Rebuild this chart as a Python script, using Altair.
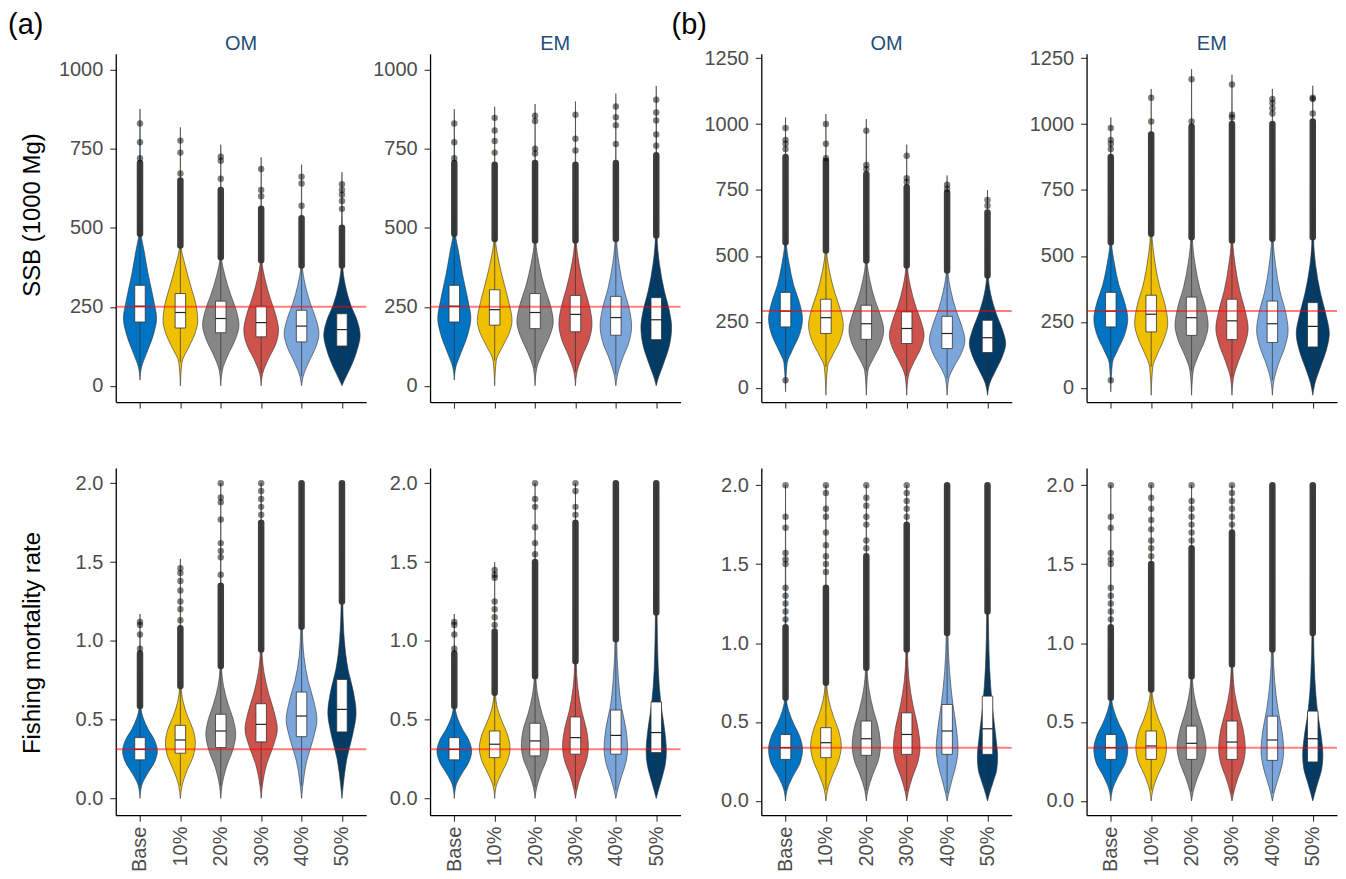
import altair as alt
import pandas as pd

CATS = ["Base", "10%", "20%", "30%", "40%", "50%"]
COLORS = ["#0073C2", "#EFC000", "#868686", "#CD534C", "#7AA6DC", "#003C67"]
XDOM = [-0.6, 5.6]

# ---------------- (a) OM  SSB ----------------
A_OM_SSB_Q1 = [202, 183, 168, 155, 139, 126]
A_OM_SSB_MED = [252, 232, 213, 200, 189, 178]
A_OM_SSB_Q3 = [318, 292, 268, 252, 239, 228]
A_OM_SSB_DENSE = [705, 650, 620, 560, 530, 500]
A_OM_SSB_SPARSE = [[720, 771, 830], [672, 738, 776], [655, 712, 725],
                   [600, 620, 686], [570, 640, 662], [560, 585, 605, 620, 638]]
A_OM_SSB_LOW = [[], [], [], [], [], []]
A_OM_SSB_VY = [[18, 60, 102, 165, 213, 270, 355, 428, 481, 876],
               [0, 75, 120, 165, 205, 260, 310, 380, 444, 818],
               [0, 50, 95, 150, 192, 240, 290, 350, 407, 763],
               [0, 40, 85, 135, 176, 225, 275, 335, 397, 723],
               [0, 30, 75, 125, 165, 210, 260, 320, 381, 700],
               [0, 15, 60, 115, 160, 205, 255, 320, 381, 676]]
A_OM_SSB_VW = [[0, .04, .16, .34, .41, .34, .20, .10, .03, 0],
               [0, .04, .20, .36, .43, .38, .27, .12, .02, 0],
               [0, .04, .17, .37, .45, .38, .24, .10, .02, 0],
               [0, .04, .18, .37, .43, .36, .23, .10, .02, 0],
               [0, .04, .18, .36, .43, .36, .22, .09, .02, 0],
               [0, .05, .22, .38, .45, .38, .22, .08, .02, 0]]

# ---------------- (a) EM  SSB ----------------
A_EM_SSB_Q1 = [202, 192, 181, 171, 160, 146]
A_EM_SSB_MED = [252, 241, 232, 226, 216, 209]
A_EM_SSB_Q3 = [318, 304, 292, 286, 283, 279]
A_EM_SSB_DENSE = [705, 700, 705, 700, 705, 730]
A_EM_SSB_SPARSE = [[720, 771, 830], [738, 775, 808, 848], [735, 750, 838, 855],
                   [745, 782, 858], [765, 825, 850, 884], [760, 795, 840, 865, 905]]
A_EM_SSB_LOW = [[], [], [], [], [], []]
A_EM_SSB_VY = [[18, 60, 102, 165, 213, 270, 355, 428, 481, 876],
               [0, 80, 125, 170, 207, 260, 320, 395, 465, 883],
               [0, 55, 105, 160, 202, 255, 310, 385, 460, 892],
               [0, 45, 95, 150, 197, 250, 310, 385, 460, 900],
               [0, 35, 85, 140, 190, 245, 305, 385, 465, 925],
               [0, 20, 70, 130, 185, 240, 300, 385, 476, 949]]
A_EM_SSB_VW = [[0, .04, .16, .34, .41, .34, .20, .10, .03, 0],
               [0, .04, .20, .37, .43, .36, .24, .10, .02, 0],
               [0, .04, .18, .37, .45, .38, .24, .10, .02, 0],
               [0, .04, .17, .35, .41, .35, .22, .09, .02, 0],
               [0, .04, .16, .33, .39, .33, .20, .08, .02, 0],
               [0, .04, .18, .33, .38, .32, .20, .08, .02, 0]]

# ---------------- (b) OM  SSB ----------------
B_OM_SSB_Q1 = [231, 206, 184, 168, 149, 134]
B_OM_SSB_MED = [291, 266, 243, 225, 206, 190]
B_OM_SSB_Q3 = [362, 336, 313, 288, 271, 256]
B_OM_SSB_DENSE = [875, 860, 810, 760, 740, 665]
B_OM_SSB_SPARSE = [[905, 925, 940, 985], [870, 925, 1000], [830, 845, 975],
                   [780, 795, 880], [755, 770], [690, 712]]
B_OM_SSB_LOW = [[29], [], [], [], [], []]
B_OM_SSB_VY = [[-15, 95, 140, 200, 262, 320, 390, 470, 552, 1025],
               [-28, 80, 125, 180, 237, 295, 360, 440, 521, 1038],
               [-28, 65, 110, 165, 218, 270, 330, 405, 483, 1019],
               [-28, 45, 95, 150, 199, 250, 310, 385, 464, 922],
               [-28, 35, 80, 130, 180, 235, 295, 370, 445, 805],
               [-28, 15, 65, 120, 168, 220, 280, 355, 426, 750]]
B_OM_SSB_VW = [[0, .04, .16, .34, .42, .35, .20, .09, .02, 0],
               [0, .04, .17, .35, .43, .36, .22, .09, .02, 0],
               [0, .04, .17, .35, .43, .36, .22, .09, .02, 0],
               [0, .04, .17, .35, .43, .36, .22, .09, .02, 0],
               [0, .04, .17, .35, .44, .36, .22, .09, .02, 0],
               [0, .05, .20, .37, .45, .37, .22, .08, .02, 0]]

# ---------------- (b) EM  SSB ----------------
B_EM_SSB_Q1 = [231, 212, 199, 183, 172, 155]
B_EM_SSB_MED = [291, 279, 266, 254, 243, 233]
B_EM_SSB_Q3 = [362, 351, 344, 336, 329, 323]
B_EM_SSB_DENSE = [875, 960, 990, 1000, 1000, 1010]
B_EM_SSB_SPARSE = [[905, 925, 940, 985], [1010, 1100], [1010, 1170],
                   [1025, 1035, 1150], [1040, 1060, 1080, 1095], [1040, 1095, 1100]]
B_EM_SSB_LOW = [[29], [], [], [], [], []]
B_EM_SSB_VY = [[-15, 95, 140, 200, 262, 320, 390, 470, 552, 1025],
               [-28, 80, 130, 190, 243, 310, 390, 490, 584, 1133],
               [-28, 65, 120, 180, 237, 300, 380, 475, 571, 1208],
               [-28, 40, 100, 165, 225, 290, 370, 465, 559, 1187],
               [-28, 30, 90, 155, 218, 285, 365, 465, 565, 1133],
               [-28, 15, 75, 140, 206, 275, 360, 465, 571, 1145]]
B_EM_SSB_VW = [[0, .04, .16, .34, .42, .35, .20, .09, .02, 0],
               [0, .04, .16, .33, .41, .35, .20, .08, .02, 0],
               [0, .04, .16, .33, .41, .35, .20, .08, .02, 0],
               [0, .04, .16, .32, .40, .33, .19, .08, .02, 0],
               [0, .04, .15, .31, .39, .33, .19, .08, .02, 0],
               [0, .05, .18, .33, .41, .33, .19, .07, .02, 0]]

# ---------------- (a) OM  F ----------------
A_OM_F_Q1 = [0.245, 0.287, 0.323, 0.359, 0.392, 0.422]
A_OM_F_MED = [0.312, 0.371, 0.428, 0.470, 0.523, 0.565]
A_OM_F_Q3 = [0.386, 0.464, 0.534, 0.601, 0.675, 0.755]
A_OM_F_DENSE = [0.92, 1.08, 1.35, 1.75, 2.0, 2.0]
A_OM_F_SPARSE = [[0.95, 1.04, 1.10, 1.12], [1.13, 1.20, 1.25, 1.32, 1.38, 1.43, 1.46],
                 [1.42, 1.53, 1.57, 1.62, 1.77, 1.88, 1.91, 2.0], [1.80, 1.85, 1.90, 1.95, 2.0], [], []]
A_OM_F_LOW = [[], [], [], [], [], []]
A_OM_F_VY = [[0, .08, .15, .23, .30, .37, .44, .51, .586, 1.17],
             [0, .08, .18, .27, .354, .44, .52, .61, .713, 1.52],
             [0, .08, .20, .31, .407, .50, .60, .71, .84, 2.0],
             [0, .08, .22, .34, .44, .55, .67, .80, .945, 2.0],
             [0, .08, .24, .38, .50, .62, .75, .90, 1.09, 2.0],
             [0, .08, .25, .41, .544, .68, .82, 1.0, 1.25, 2.0]]
A_OM_F_VW = [[0, .04, .17, .36, .43, .36, .20, .08, .02, 0],
             [0, .04, .17, .32, .37, .31, .18, .07, .02, 0],
             [0, .03, .14, .30, .37, .31, .18, .07, .02, 0],
             [0, .03, .14, .31, .40, .32, .18, .07, .02, 0],
             [0, .03, .13, .29, .38, .30, .16, .06, .02, 0],
             [0, .03, .12, .27, .35, .28, .15, .06, .02, 0]]

# ---------------- (a) EM  F ----------------
A_EM_F_Q1 = [0.245, 0.259, 0.270, 0.281, 0.281, 0.291]
A_EM_F_MED = [0.312, 0.344, 0.365, 0.386, 0.400, 0.418]
A_EM_F_Q3 = [0.386, 0.428, 0.477, 0.517, 0.561, 0.612]
A_EM_F_DENSE = [0.92, 1.06, 1.50, 1.75, 2.0, 2.0]
A_EM_F_SPARSE = [[0.95, 1.04, 1.10, 1.12], [1.10, 1.15, 1.20, 1.25, 1.40, 1.42, 1.45],
                 [1.55, 1.62, 1.72, 1.85, 1.90, 2.0], [1.80, 1.85, 1.95, 2.0], [], []]
A_EM_F_LOW = [[], [], [], [], [], []]
A_EM_F_VY = [[0, .08, .15, .23, .30, .37, .44, .51, .586, 1.17],
             [0, .08, .16, .24, .323, .41, .49, .57, .67, 1.50],
             [0, .07, .16, .25, .34, .44, .54, .65, .776, 2.0],
             [0, .06, .15, .24, .33, .44, .56, .70, .871, 2.0],
             [0, .05, .14, .23, .32, .44, .58, .77, 1.01, 2.0],
             [0, .04, .12, .21, .30, .43, .59, .82, 1.18, 2.0]]
A_EM_F_VW = [[0, .04, .17, .36, .43, .36, .20, .08, .02, 0],
             [0, .04, .17, .32, .38, .31, .18, .07, .02, 0],
             [0, .04, .15, .29, .34, .29, .17, .07, .02, 0],
             [0, .04, .14, .27, .32, .27, .15, .06, .02, 0],
             [0, .04, .14, .25, .29, .25, .14, .06, .02, 0],
             [0, .04, .13, .22, .25, .21, .12, .05, .02, 0]]

# ---------------- (b) OM  F ----------------
B_OM_F_Q1 = [0.263, 0.274, 0.289, 0.295, 0.295, 0.295]
B_OM_F_MED = [0.337, 0.369, 0.394, 0.421, 0.443, 0.457]
B_OM_F_Q3 = [0.421, 0.464, 0.506, 0.558, 0.611, 0.664]
B_OM_F_DENSE = [1.10, 1.35, 1.55, 1.75, 2.0, 2.0]
B_OM_F_SPARSE = [[1.15, 1.20, 1.25, 1.30, 1.35, 1.50, 1.53, 1.57, 1.73, 1.80, 2.0],
                 [1.45, 1.50, 1.55, 1.62, 1.70, 1.80, 1.85, 1.95, 2.0],
                 [1.60, 1.65, 1.75, 1.80, 1.87, 1.92, 2.0], [1.80, 1.85, 1.90, 1.95, 2.0], [], []]
B_OM_F_LOW = [[], [], [], [], [], []]
B_OM_F_VY = [[0, .07, .15, .24, .327, .41, .49, .57, .653, 2.0],
             [0, .07, .16, .26, .348, .44, .54, .64, .748, 2.0],
             [0, .07, .16, .26, .35, .46, .58, .70, .843, 2.0],
             [0, .06, .15, .25, .34, .46, .60, .76, .959, 2.0],
             [0, .05, .14, .24, .33, .46, .62, .82, 1.064, 2.0],
             [0, .04, .12, .20, .28, .42, .60, .85, 1.2, 2.0]]
B_OM_F_VW = [[0, .04, .17, .36, .42, .35, .20, .08, .02, 0],
             [0, .04, .16, .32, .38, .32, .18, .07, .02, 0],
             [0, .04, .15, .30, .35, .30, .17, .07, .02, 0],
             [0, .04, .14, .28, .33, .28, .16, .06, .02, 0],
             [0, .04, .13, .23, .27, .23, .14, .06, .02, 0],
             [0, .04, .14, .23, .25, .20, .12, .05, .02, 0]]

# ---------------- (b) EM  F ----------------
B_EM_F_Q1 = [0.263, 0.263, 0.263, 0.263, 0.257, 0.247]
B_EM_F_MED = [0.337, 0.348, 0.365, 0.373, 0.386, 0.394]
B_EM_F_Q3 = [0.421, 0.443, 0.474, 0.506, 0.537, 0.569]
B_EM_F_DENSE = [1.10, 1.50, 1.60, 1.70, 2.0, 2.0]
B_EM_F_SPARSE = [[1.15, 1.20, 1.25, 1.30, 1.35, 1.50, 1.53, 1.57, 1.73, 1.80, 2.0],
                 [1.55, 1.60, 1.65, 1.72, 1.78, 1.85, 1.92, 2.0],
                 [1.65, 1.70, 1.75, 1.80, 1.85, 1.90, 2.0], [1.75, 1.80, 1.85, 1.90, 1.95, 2.0], [], []]
B_EM_F_LOW = [[], [], [], [], [], []]
B_EM_F_VY = [[0, .07, .15, .24, .327, .41, .49, .57, .653, 2.0],
             [0, .07, .16, .25, .337, .43, .52, .61, .706, 2.0],
             [0, .06, .15, .25, .337, .44, .55, .66, .79, 2.0],
             [0, .05, .14, .24, .33, .45, .57, .70, .864, 2.0],
             [0, .05, .13, .23, .32, .44, .58, .75, .959, 2.0],
             [0, .04, .12, .20, .29, .41, .56, .78, 1.064, 2.0]]
B_EM_F_VW = [[0, .04, .17, .36, .42, .35, .20, .08, .02, 0],
             [0, .04, .16, .32, .38, .32, .18, .07, .02, 0],
             [0, .04, .15, .30, .36, .30, .17, .07, .02, 0],
             [0, .04, .14, .28, .33, .28, .16, .06, .02, 0],
             [0, .04, .13, .24, .28, .24, .14, .06, .02, 0],
             [0, .04, .13, .22, .25, .21, .12, .05, .02, 0]]

# reference lines
REF_A_SSB = 250
REF_B_SSB = 291
REF_A_F = 0.312
REF_B_F = 0.337

SSB_A_TICKS = [0, 250, 500, 750, 1000]
SSB_B_TICKS = [0, 250, 500, 750, 1000, 1250]
F_TICKS = [0.0, 0.5, 1.0, 1.5, 2.0]

FONT = "Liberation Sans"
PLOT_W = 251
COL_W = [251, 268, 262, 251]
ROW_H = [349, 348]
BOX_HALF = 0.13


def make_panel(vy, vw, q1, med, q3, dense, sparse, low, ref, ydom, yticks, yfmt,
               ytitle, title_y, col_label, bottom, width, height, tag=None, tag_x=0):
    vrows, brows, prows = [], [], []
    for i, c in enumerate(CATS):
        for y, w in zip(vy[i], vw[i]):
            vrows.append({"cat": c, "idx": i, "y": y, "xl": i - w, "xr": i + w})
        brows.append({"cat": c, "idx": i, "q1": q1[i], "med": med[i], "q3": q3[i],
                      "bxl": i - BOX_HALF, "bxr": i + BOX_HALF,
                      "lo": vy[i][1], "hi": vy[i][8], "dense": dense[i]})
        for v in sparse[i] + low[i]:
            prows.append({"idx": i, "v": v})
    vdf = pd.DataFrame(vrows)
    bdf = pd.DataFrame(brows)
    pdf = pd.DataFrame(prows if prows else [{"idx": 0, "v": None}])
    rdf = pd.DataFrame([{"ref": ref, "x0": XDOM[0], "x1": XDOM[1]}])

    xsc = alt.Scale(domain=XDOM, range=[0, PLOT_W], nice=False, zero=False)
    ysc = alt.Scale(domain=ydom, nice=False, zero=False)
    xkw = dict(values=list(range(6)), title="", grid=False, tickSize=6,
               tickColor="#333333", tickWidth=1.1, domainColor="black", domainWidth=1.3)
    if bottom:
        lab = "[" + ",".join("'%s'" % c for c in CATS) + "][datum.value]"
        xkw.update(labelExpr=lab, labelAngle=270, labelAlign="right", labelBaseline="middle",
                   labelFontSize=20, labelColor="#4d4d4d", labelPadding=5, labelFont=FONT)
    else:
        xkw.update(labels=False)
    xax = alt.Axis(**xkw)
    ykw = dict(values=yticks, format=yfmt, grid=False, tickSize=6, tickColor="#333333",
               tickWidth=1.1, domainColor="black", domainWidth=1.3, labelFontSize=20,
               labelColor="#4d4d4d", labelPadding=7, labelFont=FONT, title=ytitle)
    if ytitle:
        ykw.update(titleX=-83, titleY=title_y, titleBaseline="middle", titleFontSize=24,
                   titleFont=FONT, titleFontWeight="normal", titleColor="black")
    yax = alt.Axis(**ykw)

    def X(f):
        return alt.X(f, scale=xsc, axis=xax)

    def Y(f):
        return alt.Y(f, scale=ysc, axis=yax)

    violin = alt.Chart(vdf).mark_area(orient="horizontal", interpolate="monotone",
                                      stroke="#333333", strokeWidth=0.6).encode(
        y=Y("y:Q"), x=X("xl:Q"), x2="xr:Q",
        color=alt.Color("cat:N", scale=alt.Scale(domain=CATS, range=COLORS), legend=None),
        detail="cat:N")
    whisk = alt.Chart(bdf).mark_rule(color="#333333", strokeWidth=0.7).encode(
        x=X("idx:Q"), y=Y("lo:Q"), y2="hi:Q")
    dens = alt.Chart(bdf).mark_rule(color="#333333", strokeWidth=6.5, strokeCap="round",
                                    opacity=0.95).encode(
        x=X("idx:Q"), y=Y("hi:Q"), y2="dense:Q")
    pts = alt.Chart(pdf).mark_circle(size=42, color="black", opacity=0.5).encode(
        x=X("idx:Q"), y=Y("v:Q"))
    box = alt.Chart(bdf).mark_rect(fill="white", stroke="#333333", strokeWidth=0.8).encode(
        x=X("bxl:Q"), x2="bxr:Q", y=Y("q1:Q"), y2="q3:Q")
    medl = alt.Chart(bdf).mark_rule(color="#222222", strokeWidth=1.2).encode(
        x=X("bxl:Q"), x2="bxr:Q", y=Y("med:Q"))
    refl = alt.Chart(rdf).mark_rule(color="red", opacity=0.5, strokeWidth=2).encode(
        x=X("x0:Q"), x2="x1:Q", y=Y("ref:Q"))
    layers = [violin, whisk, dens, pts, box, medl, refl]
    if col_label:
        ldf = pd.DataFrame([{"cx": 2.5, "lab": col_label}])
        layers.append(alt.Chart(ldf).mark_text(align="center", baseline="alphabetic",
                                               fontSize=20, font=FONT, color="#1f4e79").encode(
            x=X("cx:Q"), y=alt.value(-4), text="lab:N"))
    if tag:
        tdf = pd.DataFrame([{"t": tag}])
        layers.append(alt.Chart(tdf).mark_text(align="left", baseline="alphabetic",
                                               fontSize=29, font=FONT, color="black").encode(
            x=alt.value(tag_x), y=alt.value(-20), text="t:N"))
    return alt.layer(*layers).properties(width=width, height=height)


A_SSB_DOM = [-51.5, 1050.5]
B_SSB_DOM = [-54, 1266]
A_F_DOM = [-0.106, 2.097]
B_F_DOM = [-0.09, 2.109]

p1 = make_panel(A_OM_SSB_VY, A_OM_SSB_VW, A_OM_SSB_Q1, A_OM_SSB_MED, A_OM_SSB_Q3, A_OM_SSB_DENSE,
                A_OM_SSB_SPARSE, A_OM_SSB_LOW, REF_A_SSB, A_SSB_DOM, SSB_A_TICKS, "d",
                "SSB (1000 Mg)", 161, "OM", False, COL_W[0], ROW_H[0], tag="(a)", tag_x=-108)
p2 = make_panel(A_EM_SSB_VY, A_EM_SSB_VW, A_EM_SSB_Q1, A_EM_SSB_MED, A_EM_SSB_Q3, A_EM_SSB_DENSE,
                A_EM_SSB_SPARSE, A_EM_SSB_LOW, REF_A_SSB, A_SSB_DOM, SSB_A_TICKS, "d",
                "", 0, "EM", False, COL_W[1], ROW_H[0])
p3 = make_panel(B_OM_SSB_VY, B_OM_SSB_VW, B_OM_SSB_Q1, B_OM_SSB_MED, B_OM_SSB_Q3, B_OM_SSB_DENSE,
                B_OM_SSB_SPARSE, B_OM_SSB_LOW, REF_B_SSB, B_SSB_DOM, SSB_B_TICKS, "d",
                "", 0, "OM", False, COL_W[2], ROW_H[0], tag="(b)", tag_x=-90)
p4 = make_panel(B_EM_SSB_VY, B_EM_SSB_VW, B_EM_SSB_Q1, B_EM_SSB_MED, B_EM_SSB_Q3, B_EM_SSB_DENSE,
                B_EM_SSB_SPARSE, B_EM_SSB_LOW, REF_B_SSB, B_SSB_DOM, SSB_B_TICKS, "d",
                "", 0, "EM", False, COL_W[3], ROW_H[0])
p5 = make_panel(A_OM_F_VY, A_OM_F_VW, A_OM_F_Q1, A_OM_F_MED, A_OM_F_Q3, A_OM_F_DENSE,
                A_OM_F_SPARSE, A_OM_F_LOW, REF_A_F, A_F_DOM, F_TICKS, ".1f",
                "Fishing mortality rate", 175, "", True, COL_W[0], ROW_H[1])
p6 = make_panel(A_EM_F_VY, A_EM_F_VW, A_EM_F_Q1, A_EM_F_MED, A_EM_F_Q3, A_EM_F_DENSE,
                A_EM_F_SPARSE, A_EM_F_LOW, REF_A_F, A_F_DOM, F_TICKS, ".1f",
                "", 0, "", True, COL_W[1], ROW_H[1])
p7 = make_panel(B_OM_F_VY, B_OM_F_VW, B_OM_F_Q1, B_OM_F_MED, B_OM_F_Q3, B_OM_F_DENSE,
                B_OM_F_SPARSE, B_OM_F_LOW, REF_B_F, B_F_DOM, F_TICKS, ".1f",
                "", 0, "", True, COL_W[2], ROW_H[1])
p8 = make_panel(B_EM_F_VY, B_EM_F_VW, B_EM_F_Q1, B_EM_F_MED, B_EM_F_Q3, B_EM_F_DENSE,
                B_EM_F_SPARSE, B_EM_F_LOW, REF_B_F, B_F_DOM, F_TICKS, ".1f",
                "", 0, "", True, COL_W[3], ROW_H[1])

chart = alt.concat(p1, p2, p3, p4, p5, p6, p7, p8, columns=4).properties(
    bounds="flush",
    spacing={"row": 66, "column": 64},
    padding={"left": 0, "top": 2, "right": 0, "bottom": 0},
).configure(font=FONT).configure_view(stroke=None)

chart.save("out.html", embed_options={"renderer": "svg", "actions": False})
